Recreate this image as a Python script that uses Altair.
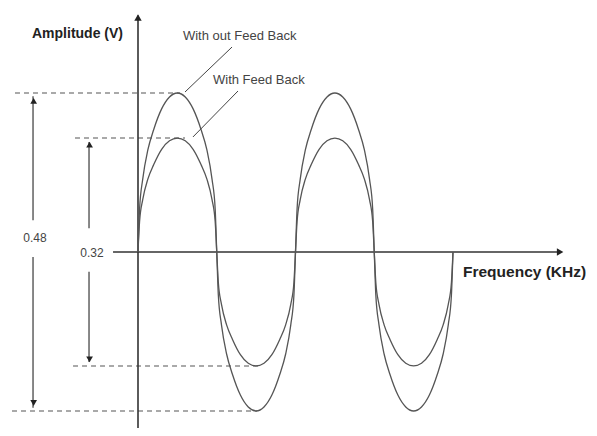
import altair as alt
import pandas as pd

# ---- data (x in half-periods of the signal, y in volts) ----
curve_x = [0, 0.02, 0.06, 0.125, 0.2, 0.3, 0.4, 0.5, 0.6, 0.7, 0.8, 0.875, 0.94, 0.98,
           1, 1.02, 1.06, 1.125, 1.2, 1.3, 1.4, 1.5, 1.6, 1.7, 1.8, 1.875, 1.94, 1.98,
           2, 2.02, 2.06, 2.125, 2.2, 2.3, 2.4, 2.5, 2.6, 2.7, 2.8, 2.875, 2.94, 2.98,
           3, 3.02, 3.06, 3.125, 3.2, 3.3, 3.4, 3.5, 3.6, 3.7, 3.8, 3.875, 3.94, 3.98,
           4]
without_fb = [0, 0.065, 0.110, 0.154, 0.185, 0.216, 0.234, 0.24, 0.234, 0.216, 0.185, 0.154, 0.110, 0.065,
              0, -0.065, -0.110, -0.154, -0.185, -0.216, -0.234, -0.24, -0.234, -0.216, -0.185, -0.154, -0.110, -0.065,
              0, 0.065, 0.110, 0.154, 0.185, 0.216, 0.234, 0.24, 0.234, 0.216, 0.185, 0.154, 0.110, 0.065,
              0, -0.065, -0.110, -0.154, -0.185, -0.216, -0.234, -0.24, -0.234, -0.216, -0.185, -0.154, -0.110, -0.065,
              0]
with_fb = [0, 0.046, 0.079, 0.110, 0.132, 0.155, 0.168, 0.172, 0.168, 0.155, 0.132, 0.110, 0.079, 0.046,
           0, -0.046, -0.079, -0.110, -0.132, -0.155, -0.168, -0.172, -0.168, -0.155, -0.132, -0.110, -0.079, -0.046,
           0, 0.046, 0.079, 0.110, 0.132, 0.155, 0.168, 0.172, 0.168, 0.155, 0.132, 0.110, 0.079, 0.046,
           0, -0.046, -0.079, -0.110, -0.132, -0.155, -0.168, -0.172, -0.168, -0.155, -0.132, -0.110, -0.079, -0.046,
           0]

# axis lines
axis_x1 = [0, -0.317]
axis_x2 = [0, 5.333]
axis_y1 = [0.357, 0]
axis_y2 = [-0.27, 0]
arrow_x = [0, 5.36]
arrow_y = [0.354, 0]
arrow_shape = ["triangle-up", "triangle-right"]

# dashed level lines
dash_x1 = [-1.562, -0.80, -0.825, -1.60]
dash_x2 = [0.533, 0.597, 1.549, 1.51]
dash_y = [0.24, 0.172, -0.172, -0.24]

# dimension arrows (vertical segments)
dim_x = [-1.333, -1.333, -0.622, -0.622]
dim_y1 = [0.235, -0.0075, 0.166, -0.030]
dim_y2 = [0.048, -0.235, 0.036, -0.166]
head_x = [-1.325, -1.325, -0.615, -0.615]
head_y = [0.228, -0.228, 0.162, -0.162]
head_shape = ["triangle-up", "triangle-down", "triangle-up", "triangle-down"]
dim_labels = ["0.48", "0.32"]
dim_label_x = [-1.308, -0.584]
dim_label_y = [0.021, -0.0015]

# leader lines
lead_x1 = [0.597, 0.698]
lead_y1 = [0.2415, 0.1736]
lead_x2 = [1.194, 1.270]
lead_y2 = [0.3094, 0.2430]
series_labels = ["With out Feed Back", "With Feed Back"]
series_label_x = [0.571, 0.952]
series_label_y = [0.326, 0.2596]

axis_titles = ["Amplitude (V)", "Frequency (KHz)"]
axis_title_x = [-1.346, 4.127]
axis_title_y = [0.3296, -0.0302]

# ---- scales ----
xs = alt.Scale(domain=[-1.6508, 5.727], nice=False, zero=False)
ys = alt.Scale(domain=[-0.2657, 0.3683], nice=False, zero=False)
X = lambda f: alt.X(f, type="quantitative", scale=xs, axis=None)
Y = lambda f: alt.Y(f, type="quantitative", scale=ys, axis=None)

curves = pd.DataFrame({
    "x": curve_x * 2,
    "y": without_fb + with_fb,
    "s": ["without"] * len(curve_x) + ["with"] * len(curve_x),
})
curve_layer = alt.Chart(curves).mark_line(
    interpolate="monotone", color="#555", strokeWidth=1.3
).encode(x=X("x"), y=Y("y"), detail="s:N")

axes_df = pd.DataFrame({"x1": axis_x1, "x2": axis_x2, "y1": axis_y1, "y2": axis_y2})
axes_layer = alt.Chart(axes_df).mark_rule(color="#333", strokeWidth=1.6).encode(
    x=X("x1"), x2="x2", y=Y("y1"), y2="y2")

arrows_df = pd.DataFrame({"x": arrow_x, "y": arrow_y, "shape": arrow_shape})
arrows_layer = alt.Chart(arrows_df).mark_point(
    filled=True, color="#222", size=55, opacity=1
).encode(x=X("x"), y=Y("y"), shape=alt.Shape("shape:N", scale=None, legend=None))

dash_df = pd.DataFrame({"x1": dash_x1, "x2": dash_x2, "y": dash_y})
dash_layer = alt.Chart(dash_df).mark_rule(
    color="#555", strokeWidth=1.1, strokeDash=[5, 4]
).encode(x=X("x1"), x2="x2", y=Y("y"))

dim_df = pd.DataFrame({"x": dim_x, "y1": dim_y1, "y2": dim_y2})
dim_layer = alt.Chart(dim_df).mark_rule(color="#555", strokeWidth=1.4).encode(
    x=X("x"), y=Y("y1"), y2="y2")

head_df = pd.DataFrame({"x": head_x, "y": head_y, "shape": head_shape})
head_layer = alt.Chart(head_df).mark_point(
    filled=True, color="#222", size=45, opacity=1
).encode(x=X("x"), y=Y("y"), shape=alt.Shape("shape:N", scale=None, legend=None))

dim_lab_df = pd.DataFrame({"t": dim_labels, "x": dim_label_x, "y": dim_label_y})
dim_lab_layer = alt.Chart(dim_lab_df).mark_text(
    font="Liberation Sans", fontSize=12, color="#444", align="center", baseline="middle"
).encode(x=X("x"), y=Y("y"), text="t:N")

lead_df = pd.DataFrame({"x1": lead_x1, "y1": lead_y1, "x2": lead_x2, "y2": lead_y2})
lead_layer = alt.Chart(lead_df).mark_rule(color="#444", strokeWidth=1.0).encode(
    x=X("x1"), y=Y("y1"), x2="x2", y2="y2")

ser_df = pd.DataFrame({"t": series_labels, "x": series_label_x, "y": series_label_y})
ser_layer = alt.Chart(ser_df).mark_text(
    font="Liberation Sans", fontSize=13, color="#444", align="left", baseline="middle"
).encode(x=X("x"), y=Y("y"), text="t:N")

ttl_df = pd.DataFrame({"t": axis_titles, "x": axis_title_x, "y": axis_title_y,
                       "fs": [14, 15.5]})
ttl_layer = alt.Chart(ttl_df).mark_text(
    font="Liberation Sans", fontWeight="bold", color="#222", align="left", baseline="middle"
).encode(x=X("x"), y=Y("y"), text="t:N",
         size=alt.Size("fs:Q", scale=None, legend=None))

chart = alt.layer(
    dash_layer, axes_layer, arrows_layer, curve_layer, dim_layer, head_layer,
    dim_lab_layer, lead_layer, ser_layer, ttl_layer
).properties(
    width=581, height=420, padding=0,
    autosize=alt.AutoSizeParams(type="none"),
    background="white",
).configure_view(stroke=None)

chart.save("out.html", embed_options={"renderer": "svg", "actions": False})
